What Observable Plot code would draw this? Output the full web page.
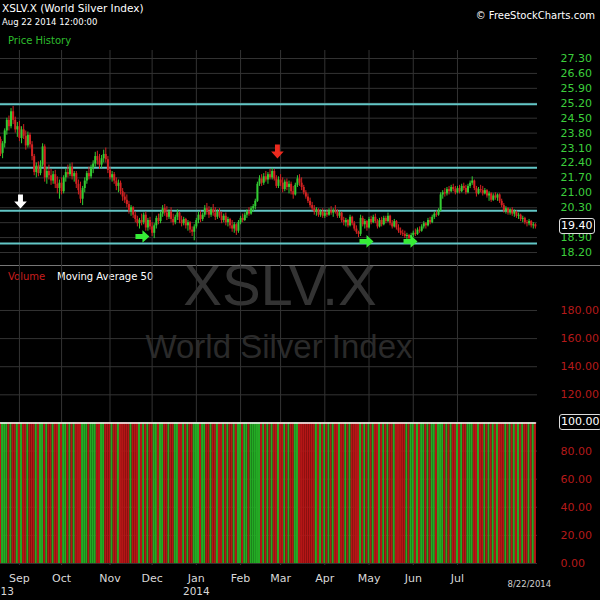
<!DOCTYPE html>
<html><head><meta charset="utf-8">
<script src="https://cdn.jsdelivr.net/npm/d3@7"></script>
<script src="https://cdn.jsdelivr.net/npm/@observablehq/plot@0.6"></script>
<style>
body{margin:0;background:#000;}
#wrap{position:relative;width:600px;height:600px;background:#000;overflow:hidden;font-family:"DejaVu Sans",sans-serif;}
#decor{position:absolute;left:0;top:0;}
#price{position:absolute;left:0;top:0;}
#vol{position:absolute;left:0;top:265px;}
svg{overflow:visible;}
.badge{position:absolute;left:559px;height:14px;line-height:14px;border:1px solid #ddd;border-radius:3px;background:#000;color:#fff;font-size:11px;padding:0 1px;text-align:center;font-family:"DejaVu Sans",sans-serif;}
</style></head><body>
<div id="wrap">
<svg id="decor" width="600" height="600" font-family="DejaVu Sans">
  <text x="280" y="305" text-anchor="middle" font-family="Liberation Sans" font-size="58" fill="#333">XSLV.X</text>
  <text x="279" y="358" text-anchor="middle" font-family="Liberation Sans" font-size="33" fill="#2a2a2a">World Silver Index</text>
  <line x1="0" x2="600" y1="265.5" y2="265.5" stroke="#777"/>
  <text x="2" y="12" font-size="10.5" fill="#fff">XSLV.X (World Silver Index)</text>
  <text x="2" y="25" font-size="8.5" fill="#fff">Aug 22 2014 12:00:00</text>
  <text x="8" y="44" font-size="10" fill="#2ebd2e">Price History</text>
  <text x="595" y="19" text-anchor="end" font-size="10" fill="#fff">© FreeStockCharts.com</text>
  <text x="8" y="280" font-size="10" fill="#c81e1e">Volume</text>
  <text x="57" y="280" font-size="10" fill="#fff">Moving Average 50</text>
</svg>
<div id="price"></div>
<div id="vol"></div>
</div>
<script>
const opens = [
23.50,22.85,23.30,23.90,24.40,24.10,24.80,24.40,23.95,
24.10,23.55,23.95,23.65,23.20,23.70,23.25,22.70,21.95,22.25,21.90,22.30,23.15,21.70,22.00,21.80,21.55,21.85,21.40,21.20,
21.45,21.05,21.70,21.95,21.85,22.20,21.75,21.90,21.40,21.10,20.70,21.20,21.55,21.90,21.75,22.15,22.35,22.70,22.50,22.30,22.60,22.80,22.55,
22.05,21.70,21.85,21.55,21.30,21.45,21.05,20.80,20.65,20.45,20.15,20.30,19.95,19.75,19.55,19.70,19.60,19.95,19.35,19.70,
19.40,19.10,19.45,19.80,19.65,20.00,20.25,20.05,19.85,20.10,19.75,19.60,19.85,20.05,19.70,19.55,19.75,19.45,19.60,19.25,19.15,
19.40,19.70,19.95,19.75,19.95,20.25,20.10,19.95,20.20,20.05,19.85,20.10,19.90,19.70,19.90,19.60,19.75,19.45,19.30,19.50,19.20,
19.60,19.80,19.70,19.95,20.10,20.00,20.25,20.35,20.60,21.40,21.65,21.45,21.75,21.60,21.85,21.70,22.00,21.65,21.30,
21.60,21.45,21.15,21.50,21.25,21.40,21.05,20.90,21.35,21.65,21.45,21.25,21.00,20.80,20.60,20.40,20.25,20.10,20.20,19.95,20.10,
19.90,20.05,19.95,20.15,20.05,20.15,20.10,19.90,20.05,19.70,19.60,19.70,19.45,19.85,19.55,19.30,19.15,19.05,19.80,19.50,19.65,
19.35,19.75,19.60,19.85,19.65,19.40,19.70,19.50,19.80,19.65,19.90,19.55,19.40,19.65,19.35,19.20,19.10,19.05,18.95,19.00,18.85,
19.00,19.10,19.05,19.25,19.20,19.40,19.55,19.45,19.70,19.60,19.85,20.00,19.95,20.15,20.90,21.00,20.95,21.15,21.05,21.25,21.15,
21.00,21.20,21.05,21.30,21.20,21.00,21.30,21.45,21.55,21.20,20.95,21.15,21.10,20.95,21.10,20.85,20.95,20.65,20.85,20.75,20.90,20.60,
20.40,20.15,20.25,20.05,20.20,20.00,20.10,19.90,19.95,19.75,19.80,19.60,19.55,19.65,19.45,19.50];
const highs = [
23.62,23.40,24.00,24.50,24.60,24.95,25.05,24.55,24.30,
24.35,24.10,24.20,23.90,23.85,23.80,23.40,22.80,22.40,22.45,22.50,23.30,23.25,22.20,22.30,22.10,22.00,22.05,21.75,21.60,
21.70,21.80,22.10,22.30,22.35,22.40,22.00,22.00,21.60,21.50,21.30,21.70,22.00,22.20,22.30,22.50,22.90,22.95,22.80,22.75,23.00,23.10,22.70,
22.20,22.00,21.95,21.70,21.60,21.55,21.20,21.00,20.90,20.60,20.40,20.35,20.10,19.90,19.80,20.00,20.05,20.10,19.80,19.85,
19.60,19.55,19.90,20.00,20.10,20.40,20.45,20.35,20.20,20.30,20.00,19.95,20.20,20.10,19.90,19.85,19.80,19.70,19.65,19.40,19.50,
19.80,20.10,20.15,20.05,20.40,20.50,20.35,20.30,20.45,20.30,20.20,20.25,20.10,20.00,20.05,19.85,19.80,19.70,19.60,19.55,19.70,
19.90,20.00,20.05,20.20,20.30,20.35,20.45,20.70,21.50,21.80,21.85,21.90,22.00,21.95,22.10,22.15,22.10,21.80,21.75,
21.85,21.70,21.60,21.65,21.55,21.50,21.30,21.45,21.80,21.85,21.70,21.35,21.10,20.95,20.75,20.55,20.40,20.30,20.25,20.20,20.25,
20.15,20.20,20.25,20.35,20.25,20.40,20.20,20.15,20.10,19.85,19.80,19.75,19.95,19.90,19.65,19.45,19.20,19.95,19.90,19.75,19.70,
19.85,19.90,19.95,20.00,19.75,19.80,19.85,19.90,19.90,20.05,19.95,19.70,19.75,19.70,19.50,19.35,19.25,19.20,19.10,19.05,19.10,
19.20,19.30,19.35,19.40,19.50,19.65,19.60,19.80,19.85,19.95,20.10,20.15,20.25,21.00,21.10,21.20,21.25,21.30,21.35,21.40,21.30,
21.30,21.35,21.40,21.45,21.35,21.40,21.55,21.75,21.60,21.30,21.25,21.35,21.30,21.20,21.15,21.05,21.00,20.95,21.00,20.95,20.95,20.70,
20.50,20.35,20.30,20.25,20.30,20.20,20.15,20.05,20.00,19.90,19.85,19.70,19.75,19.70,19.60,19.55];
const lows = [
22.70,22.60,23.10,23.70,23.90,24.00,24.20,23.80,23.60,
23.40,23.30,23.50,23.00,23.10,23.10,22.50,21.80,21.70,21.75,21.80,22.20,21.50,21.40,21.60,21.35,21.40,21.20,20.95,20.70,
20.90,20.95,21.50,21.70,21.75,21.60,21.50,21.20,20.90,20.50,20.40,21.00,21.40,21.60,21.65,21.90,22.20,22.30,22.10,22.15,22.40,22.40,21.90,
21.60,21.50,21.40,21.10,21.00,20.90,20.60,20.50,20.30,20.00,19.90,19.80,19.60,19.40,19.30,19.45,19.50,19.20,19.20,19.25,
18.95,18.85,19.30,19.50,19.55,19.85,19.90,19.70,19.75,19.60,19.45,19.50,19.70,19.55,19.40,19.45,19.30,19.20,19.10,18.95,18.75,
19.30,19.55,19.60,19.65,19.85,19.95,19.80,19.85,19.90,19.70,19.75,19.80,19.55,19.60,19.45,19.40,19.30,19.15,19.10,19.00,19.10,
19.50,19.60,19.65,19.80,19.90,19.95,20.10,20.20,20.55,21.30,21.30,21.35,21.50,21.40,21.60,21.60,21.55,21.20,21.20,
21.30,21.00,21.05,21.10,20.95,20.90,20.70,20.85,21.25,21.30,21.10,20.90,20.70,20.50,20.30,20.15,19.95,19.90,19.85,19.85,19.80,
19.80,19.85,19.90,19.95,19.85,20.00,19.80,19.80,19.60,19.45,19.40,19.35,19.40,19.45,19.20,19.05,18.90,18.95,19.40,19.30,19.20,
19.30,19.50,19.55,19.55,19.30,19.35,19.40,19.45,19.55,19.60,19.45,19.30,19.35,19.25,19.10,19.00,18.95,18.85,18.80,18.75,18.75,
18.90,18.95,19.00,19.10,19.15,19.30,19.30,19.40,19.50,19.55,19.75,19.85,19.90,20.10,20.70,20.80,20.85,20.90,21.00,21.05,20.90,
20.95,20.95,21.00,21.10,20.90,20.95,21.20,21.35,21.10,20.80,20.90,21.00,20.85,20.90,20.75,20.60,20.55,20.60,20.65,20.60,20.50,20.30,
20.05,20.00,19.95,19.95,19.90,19.85,19.80,19.75,19.65,19.60,19.50,19.40,19.45,19.35,19.30,19.30];
const closes = [
22.80,23.30,23.90,24.40,24.10,24.80,24.40,23.95,24.10,
23.55,23.95,23.65,23.20,23.70,23.25,22.70,21.95,22.25,21.90,22.30,23.15,21.70,22.00,21.80,21.55,21.85,21.40,21.20,21.45,
21.05,21.70,21.95,21.85,22.20,21.75,21.90,21.40,21.10,20.70,21.20,21.55,21.90,21.75,22.15,22.35,22.70,22.50,22.30,22.60,22.80,22.55,22.05,
21.70,21.85,21.55,21.30,21.45,21.05,20.80,20.65,20.45,20.15,20.30,19.95,19.75,19.55,19.70,19.60,19.95,19.35,19.70,19.40,
19.10,19.45,19.80,19.65,20.00,20.25,20.05,19.85,20.10,19.75,19.60,19.85,20.05,19.70,19.55,19.75,19.45,19.60,19.25,19.15,19.40,
19.70,19.95,19.75,19.95,20.25,20.10,19.95,20.20,20.05,19.85,20.10,19.90,19.70,19.90,19.60,19.75,19.45,19.30,19.50,19.20,19.60,
19.80,19.70,19.95,20.10,20.00,20.25,20.35,20.60,21.40,21.65,21.45,21.75,21.60,21.85,21.70,22.00,21.65,21.30,21.60,
21.45,21.15,21.50,21.25,21.40,21.05,20.90,21.35,21.65,21.45,21.25,21.00,20.80,20.60,20.40,20.25,20.10,20.20,19.95,20.10,19.90,
20.05,19.95,20.15,20.05,20.15,20.10,19.90,20.05,19.70,19.60,19.70,19.45,19.85,19.55,19.30,19.15,19.05,19.80,19.50,19.65,19.35,
19.75,19.60,19.85,19.65,19.40,19.70,19.50,19.80,19.65,19.90,19.55,19.40,19.65,19.35,19.20,19.10,19.05,18.95,19.00,18.85,19.00,
19.10,19.05,19.25,19.20,19.40,19.55,19.45,19.70,19.60,19.85,20.00,19.95,20.15,20.90,21.00,20.95,21.15,21.05,21.25,21.15,21.00,
21.20,21.05,21.30,21.20,21.00,21.30,21.45,21.55,21.20,20.95,21.15,21.10,20.95,21.10,20.85,20.95,20.65,20.85,20.75,20.90,20.60,20.40,
20.15,20.25,20.05,20.20,20.00,20.10,19.90,19.95,19.75,19.80,19.60,19.55,19.65,19.45,19.50,19.40];
const volumes = [
100,100,100,100,100,100,100,100,100,
100,100,100,100,100,100,100,100,100,100,100,100,100,100,100,100,100,100,100,100,
100,100,100,100,100,100,100,100,100,100,100,100,100,100,100,100,100,100,100,100,100,100,100,
100,100,100,100,100,100,100,100,100,100,100,100,100,100,100,100,100,100,100,100,
100,100,100,100,100,100,100,100,100,100,100,100,100,100,100,100,100,100,100,100,100,
100,100,100,100,100,100,100,100,100,100,100,100,100,100,100,100,100,100,100,100,100,
100,100,100,100,100,100,100,100,100,100,100,100,100,100,100,100,100,100,100,
100,100,100,100,100,100,100,100,100,100,100,100,100,100,100,100,100,100,100,100,100,
100,100,100,100,100,100,100,100,100,100,100,100,100,100,100,100,100,100,100,100,100,
100,100,100,100,100,100,100,100,100,100,100,100,100,100,100,100,100,100,100,100,100,
100,100,100,100,100,100,100,100,100,100,100,100,100,100,100,100,100,100,100,100,100,
100,100,100,100,100,100,100,100,100,100,100,100,100,100,100,100,100,100,100,100,100,100,
100,100,100,100,100,100,100,100,100,100,100,100,100,100,100,100];

const monthStarts = [9, 29, 52, 72, 93, 114, 133, 154, 175, 196, 217];
const monthLabels = ["Sep", "Oct", "Nov", "Dec", "Jan", "Feb", "Mar", "Apr", "May", "Jun", "Jul"];
const yearStarts = [0, 93];
const yearLabels = ["13", "2014"];
const lastDateLabel = "8/22/2014";
const priceTicks = [18.20, 18.90, 19.60, 20.30, 21.00, 21.70, 22.40, 23.10, 23.80, 24.50, 25.20, 25.90, 26.60, 27.30];
const volumeTicks = [0, 20, 40, 60, 80, 100, 120, 140, 160, 180];
const supportLevels = [25.15, 22.18, 20.16, 18.62];
const arrowIdx = [9.5, 131.5, 67.4, 173.8, 194.7];
const arrowPrice = [20.59, 22.94, 18.95, 18.72, 18.72];
const arrowDir = ["down", "down", "right", "right", "right"];
const arrowColor = ["#ffffff", "#ec2a1e", "#36ec36", "#36ec36", "#36ec36"];

const N = closes.length;
[opens, highs, lows, volumes].forEach(a => { if (a.length !== N) throw new Error("length mismatch " + a.length + " vs " + N); });
const idx = d3.range(N);
const up = idx.map(i => closes[i] >= opens[i]);
const UP = "#33cc33", DOWN = "#d42222";
const VUP = "#24aa24", VDOWN = "#b51616";
const GRID = "#333";

function arrowSymbol(dir) {
  return {draw(ctx, size) {
    const r = Math.sqrt(size / Math.PI);
    const pts = [[-0.35,-1],[0.35,-1],[0.35,0],[0.9,0],[0,1],[-0.9,0],[-0.35,0]];
    pts.forEach(([x, y], k) => {
      const px = dir === "down" ? x * r : y * r;
      const py = dir === "down" ? y * r : -x * r;
      if (k) ctx.lineTo(px, py); else ctx.moveTo(px, py);
    });
    ctx.closePath();
  }};
}
const arrowK = arrowIdx.map((_, k) => k);

const common = {
  width: 600, marginLeft: 0, marginRight: 63,
  style: {background: "transparent", color: "#ddd", fontFamily: "DejaVu Sans, sans-serif", fontSize: "11px"},
  color: {type: "identity"}
};

const price = Plot.plot({
  ...common,
  height: 265, marginTop: 50, marginBottom: 0,
  x: {type: "linear", domain: [0, 255], axis: null},
  y: {domain: [17.59, 27.675], axis: null},
  marks: [
    Plot.gridY(priceTicks, {stroke: GRID, strokeOpacity: 1}),
    Plot.gridX(monthStarts, {stroke: GRID, strokeOpacity: 1}),
    Plot.ruleY(supportLevels, {stroke: "#62c6c6", strokeWidth: 2}),
    Plot.ruleX(idx, {x: i => i, y1: i => lows[i], y2: i => highs[i], stroke: i => up[i] ? UP : DOWN, strokeWidth: 1}),
    Plot.ruleX(idx, {x: i => i, y1: i => opens[i], y2: i => closes[i], stroke: i => up[i] ? UP : DOWN, strokeWidth: 2}),
    Plot.dot(arrowK, {filter: k => arrowDir[k] === "down", x: k => arrowIdx[k], y: k => arrowPrice[k], r: 7, symbol: arrowSymbol("down"), fill: k => arrowColor[k], stroke: null}),
    Plot.dot(arrowK, {filter: k => arrowDir[k] === "right", x: k => arrowIdx[k], y: k => arrowPrice[k], r: 7, symbol: arrowSymbol("right"), fill: k => arrowColor[k], stroke: null}),
    Plot.axisY(priceTicks, {anchor: "right", tickSize: 0, tickPadding: 23, tickFormat: d => d.toFixed(2), fill: "#3ccf3c", label: null})
  ]
});
document.getElementById("price").append(price);

const monthMap = new Map(monthStarts.map((m, k) => [m, monthLabels[k]]));
const yearK = yearStarts.map((_, k) => k);

const vol = Plot.plot({
  ...common,
  height: 335, marginTop: 0, marginBottom: 35,
  x: {type: "linear", domain: [0, 255]},
  y: {domain: [-1.423, 212.0]},
  marks: [
    Plot.gridY(volumeTicks, {stroke: GRID, strokeOpacity: 1}),
    Plot.gridX(monthStarts, {stroke: GRID, strokeOpacity: 1}),
    Plot.rectY(idx, {x1: i => i - 0.5, x2: i => i + 0.5, y: i => volumes[i], fill: i => up[i] ? VUP : VDOWN, inset: 0}),
    Plot.lineY(idx, Plot.windowY({k: 50, anchor: "end"}, {x: i => i, y: i => volumes[i], stroke: "#fff", strokeWidth: 1.5})),
    Plot.axisY(volumeTicks, {anchor: "right", tickSize: 0, tickPadding: 23, tickFormat: d => d.toFixed(2), fill: "#b51a1a", label: null}),
    Plot.axisX(monthStarts, {anchor: "bottom", tickSize: 0, tickPadding: 9, tickFormat: d => monthMap.get(d), fill: "#d8d8d8", label: null}),
    Plot.text(yearK, {filter: k => yearStarts[k] === 0, x: k => yearStarts[k], text: k => yearLabels[k], frameAnchor: "bottom", dy: 29.5, textAnchor: "start", fill: "#d8d8d8", fontSize: 10.5}),
    Plot.text(yearK, {filter: k => yearStarts[k] !== 0, x: k => yearStarts[k], text: k => yearLabels[k], frameAnchor: "bottom", dy: 29.5, textAnchor: "middle", fill: "#d8d8d8", fontSize: 10.5}),
    Plot.text([lastDateLabel], {x: () => N - 1, frameAnchor: "bottom", dy: 21, dx: -6, text: d => d, fill: "#d0d0d0", fontSize: 8.5})
  ]
});
document.getElementById("vol").append(vol);

const wrap = document.getElementById("wrap");
function badge(text, yCenter) {
  const b = document.createElement("div");
  b.className = "badge";
  b.textContent = text;
  b.style.top = (yCenter - 8) + "px";
  wrap.append(b);
}
badge(closes[N - 1].toFixed(2), price.scale("y").apply(closes[N - 1]));
const lastMA = d3.mean(volumes.slice(-50));
badge(lastMA.toFixed(2), 265 + vol.scale("y").apply(lastMA));
</script>
</body></html>
